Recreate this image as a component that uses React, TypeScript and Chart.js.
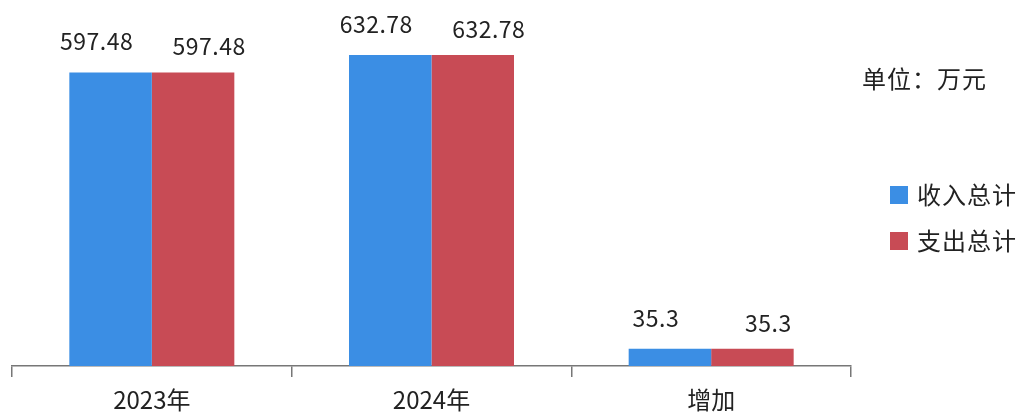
import React, { useEffect, useRef } from "react";
import { Chart, registerables } from "chart.js";

Chart.register(...registerables);

const categories = ["2023年", "2024年", "增加"];
const incomeValues = [597.48, 632.78, 35.3];
const expenseValues = [597.48, 632.78, 35.3];
const seriesNames = ["收入总计", "支出总计"];
const unitText = "单位：万元";

const BLUE = "#3b8ee4";
const RED = "#c84b55";
const FONT = "'Noto Sans CJK SC', 'Noto Sans', sans-serif";

// per-series label offsets (dx, gap above bar)
const labelDx = [-14, 16];
const labelGap = [22, 17];

const labelPlugin = {
  id: "valueLabels",
  afterDatasetsDraw(chart: any) {
    const ctx = chart.ctx;
    ctx.save();
    ctx.fillStyle = "#222";
    ctx.font = `23px ${FONT}`;
    try { (ctx as any).letterSpacing = "0.5px"; } catch (e) {}
    ctx.textAlign = "center";
    ctx.textBaseline = "alphabetic";
    chart.data.datasets.forEach((ds: any, i: number) => {
      const meta = chart.getDatasetMeta(i);
      meta.data.forEach((bar: any, j: number) => {
        ctx.fillText(String(ds.data[j]), bar.x + labelDx[i], bar.y - labelGap[i]);
      });
    });
    ctx.restore();
  },
  afterDraw(chart: any) {
    const ctx = chart.ctx;
    ctx.save();
    ctx.fillStyle = "#222";
    ctx.font = `24px ${FONT}`;
    try { (ctx as any).letterSpacing = "1px"; } catch (e) {}
    ctx.textBaseline = "middle";
    ctx.textAlign = "left";
    ctx.fillText(unitText, 862, 79);
    const colors = [BLUE, RED];
    seriesNames.forEach((name, i) => {
      const y = 195 + i * 46;
      ctx.fillStyle = colors[i];
      ctx.fillRect(890, y - 9, 18, 18);
      ctx.fillStyle = "#222";
      ctx.fillText(name, 917, y);
    });
    ctx.restore();
  },
};

export default function App() {
  const ref = useRef<HTMLCanvasElement>(null);
  useEffect(() => {
    if (!ref.current) return;
    const chart = new Chart(ref.current, {
      type: "bar",
      data: {
        labels: categories,
        datasets: [
          { label: seriesNames[0], data: incomeValues, backgroundColor: BLUE },
          { label: seriesNames[1], data: expenseValues, backgroundColor: RED },
        ],
      },
      options: {
        animation: false,
        responsive: true,
        maintainAspectRatio: false,
        layout: { padding: { left: 12, right: 172, top: 22, bottom: 0 } },
        datasets: { bar: { categoryPercentage: 0.59, barPercentage: 1 } },
        plugins: { legend: { display: false }, tooltip: { enabled: false } },
        scales: {
          y: { display: false, min: 0, max: 700 },
          x: {
            afterFit: (scale: any) => {
              scale.height = 53;
            },
            border: { display: true, color: "#777", width: 1.5 },
            grid: {
              offset: true,
              drawOnChartArea: false,
              drawTicks: true,
              tickLength: 11,
              color: "#777",
              lineWidth: 1.5,
            },
            ticks: { color: "#222", font: { size: 24, family: FONT }, padding: 8 },
          },
        },
      },
      plugins: [labelPlugin],
    });
    return () => chart.destroy();
  }, []);
  return (
    <div style={{ position: "fixed", left: 0, top: 0, width: 1023, height: 419, background: "#fff" }}>
      <canvas ref={ref} />
    </div>
  );
}
